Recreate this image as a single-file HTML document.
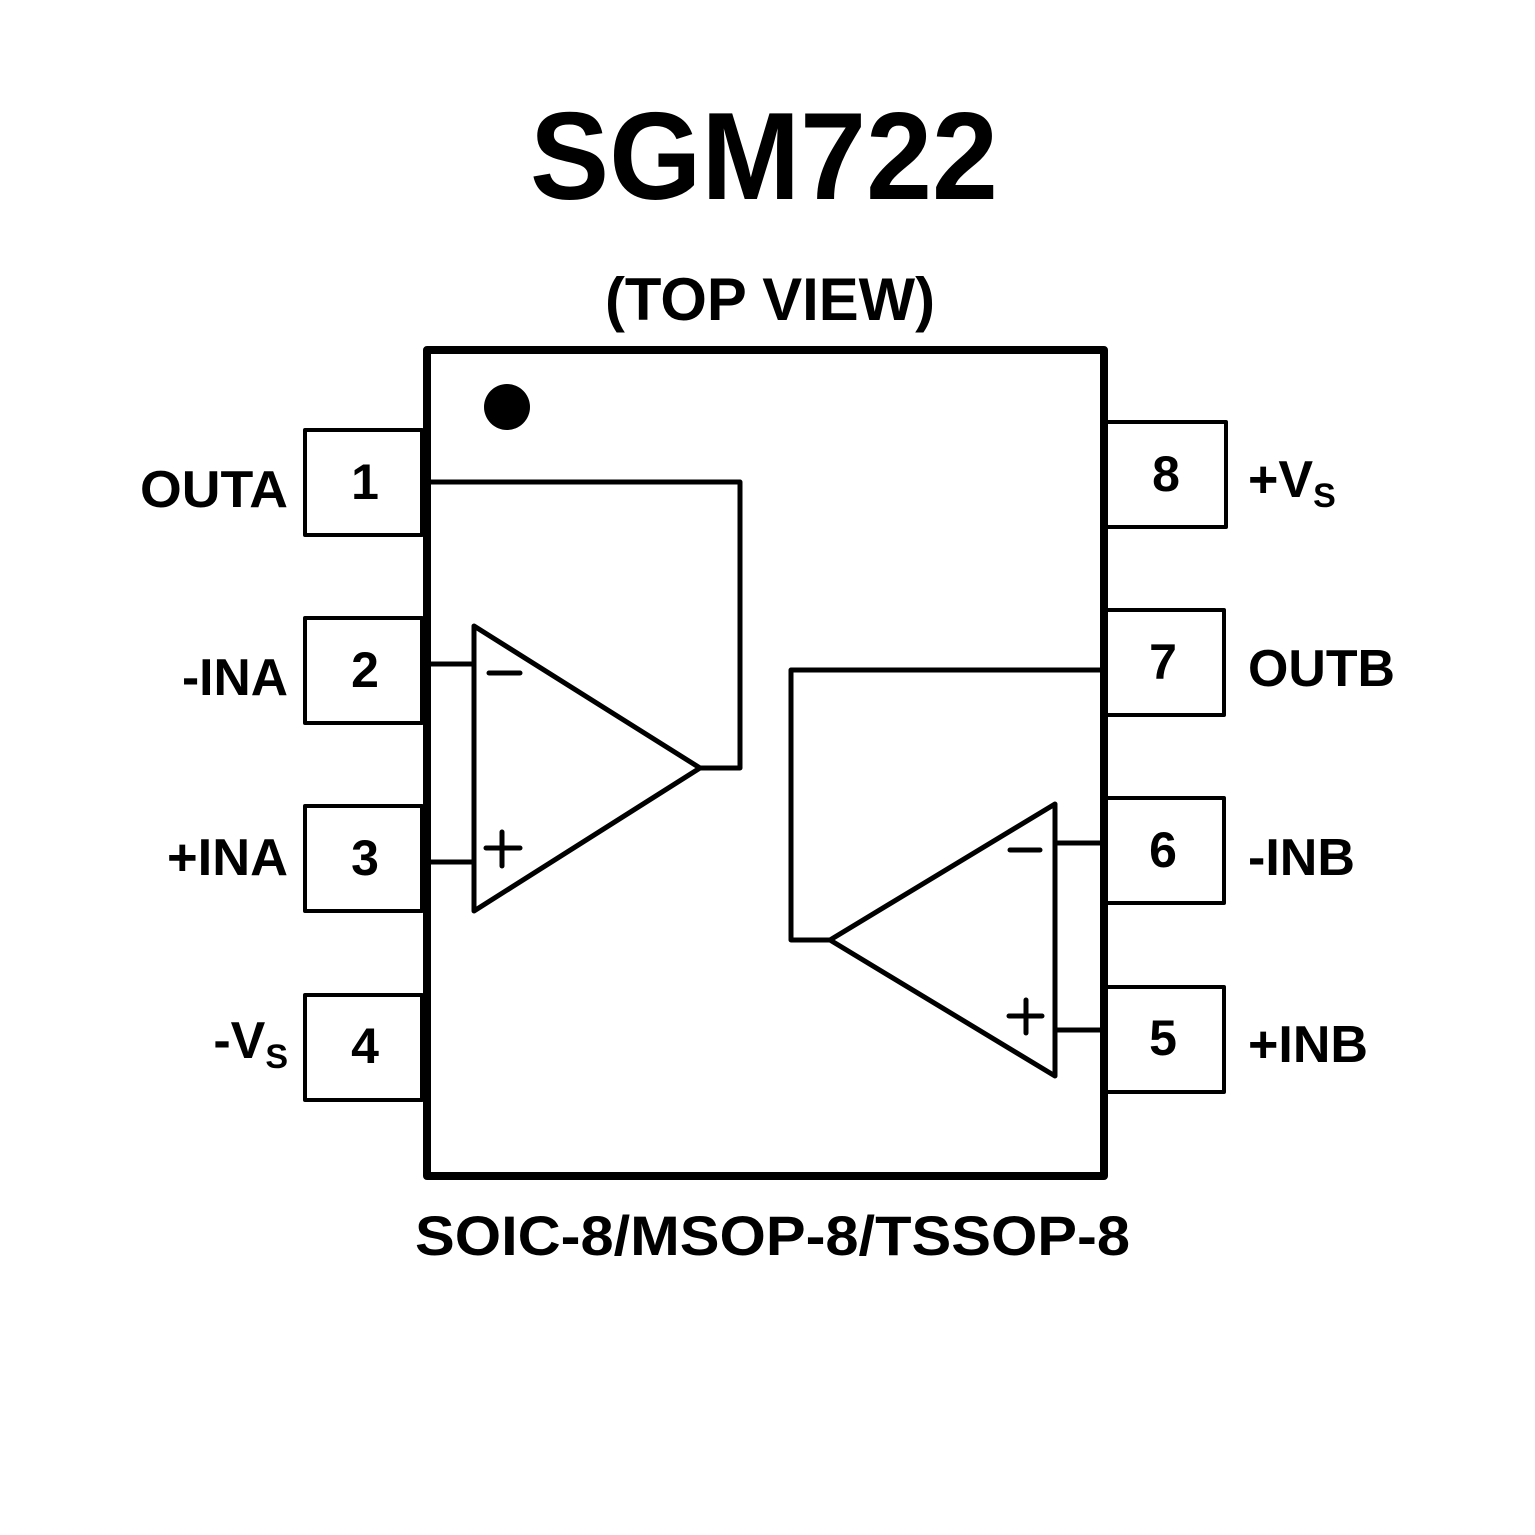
<!DOCTYPE html>
<html><head><meta charset="utf-8"><style>html,body{margin:0;padding:0;background:#fff}svg{display:block}</style></head>
<body>
<svg width="1535" height="1535" viewBox="0 0 1535 1535" xmlns="http://www.w3.org/2000/svg" font-family="Liberation Sans, Arial, sans-serif" font-weight="bold">
<rect width="1535" height="1535" fill="#fff"/>
<text x="530" y="199" font-size="124" textLength="468" lengthAdjust="spacingAndGlyphs">SGM722</text>
<text x="605" y="320" font-size="60" textLength="330" lengthAdjust="spacingAndGlyphs">(TOP VIEW)</text>
<g fill="none" stroke="#000" stroke-width="4" stroke-linejoin="round" stroke-linecap="round">
<rect x="305" y="430" width="117" height="105"/>
<rect x="305" y="618" width="117" height="105"/>
<rect x="305" y="806" width="117" height="105"/>
<rect x="305" y="995" width="117" height="105"/>
<rect x="1106" y="422" width="120" height="105"/>
<rect x="1106" y="610" width="118" height="105"/>
<rect x="1106" y="798" width="118" height="105"/>
<rect x="1106" y="987" width="118" height="105"/>
</g>
<rect x="427" y="350" width="677" height="826" fill="#fff" stroke="#000" stroke-width="8" stroke-linejoin="round"/>
<circle cx="507" cy="407" r="23" fill="#000"/>
<g fill="none" stroke="#000" stroke-width="5" stroke-linejoin="round" stroke-linecap="round">
<polygon points="474,626 474,911 700,768"/>
<polyline points="431,664 474,664"/>
<polyline points="431,862 474,862"/>
<polyline points="700,768 740,768 740,482 431,482"/>
<line x1="489" y1="673" x2="520" y2="673"/>
<line x1="486" y1="848" x2="520" y2="848"/>
<line x1="502" y1="832" x2="502" y2="866"/>
<polygon points="1055,804 1055,1076 830,940"/>
<polyline points="1055,843 1100,843"/>
<polyline points="1055,1030 1100,1030"/>
<polyline points="830,940 791,940 791,670 1100,670"/>
<line x1="1010" y1="850" x2="1040" y2="850"/>
<line x1="1009" y1="1016" x2="1042" y2="1016"/>
<line x1="1026" y1="1000" x2="1026" y2="1033"/>
</g>
<g font-size="50" text-anchor="middle">
<text x="365" y="499">1</text>
<text x="365" y="687">2</text>
<text x="365" y="875">3</text>
<text x="365" y="1063">4</text>
<text x="1166" y="491">8</text>
<text x="1163" y="679">7</text>
<text x="1163" y="867">6</text>
<text x="1163" y="1055">5</text>
</g>
<g font-size="52">
<text x="140" y="507" textLength="148" lengthAdjust="spacingAndGlyphs">OUTA</text>
<text x="182" y="695" textLength="106" lengthAdjust="spacingAndGlyphs">-INA</text>
<text x="167" y="875" textLength="121" lengthAdjust="spacingAndGlyphs">+INA</text>
<text x="288" y="1058" text-anchor="end">-V<tspan font-size="34" dy="10">S</tspan></text>
<text x="1248" y="497">+V<tspan font-size="34" dy="10">S</tspan></text>
<text x="1248" y="686" textLength="147" lengthAdjust="spacingAndGlyphs">OUTB</text>
<text x="1248" y="875" textLength="107" lengthAdjust="spacingAndGlyphs">-INB</text>
<text x="1248" y="1062" textLength="120" lengthAdjust="spacingAndGlyphs">+INB</text>
</g>
<text x="415" y="1255" font-size="56" textLength="715" lengthAdjust="spacingAndGlyphs">SOIC-8/MSOP-8/TSSOP-8</text>
</svg>
</body></html>
